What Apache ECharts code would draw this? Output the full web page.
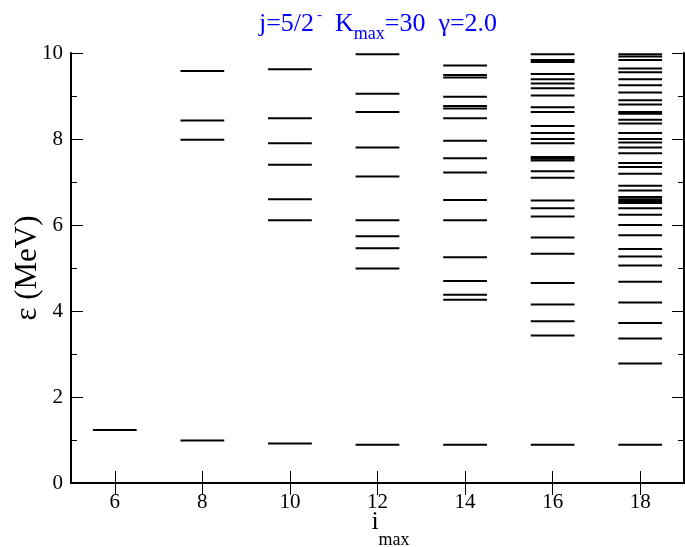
<!DOCTYPE html>
<html>
<head>
<meta charset="utf-8">
<script src="https://cdn.jsdelivr.net/npm/echarts@6/dist/echarts.min.js"></script>
<style>html,body{margin:0;padding:0;background:#fff;}#c{width:685px;height:547px;}</style>
</head>
<body>
<div id="c"></div>
<script>
const iMax = [6, 8, 10, 12, 14, 16, 18];
const xTicks = [6, 8, 10, 12, 14, 16, 18];
const levels6 = [1.23];
const levels8 = [9.58, 8.43, 7.98, 0.99];
const levels10 = [9.62, 8.48, 7.90, 7.40, 6.60, 6.11, 0.92];
const levels12 = [9.97, 9.05, 8.63, 7.80, 7.13, 6.11, 5.74, 5.46, 4.99, 0.89];
const levels14 = [9.71, 9.49, 9.43, 8.98, 8.77, 8.71, 8.48, 7.96, 7.55, 7.22, 6.58, 6.11, 5.25, 4.70, 4.38, 4.26, 0.89];
const levels16 = [9.97, 9.84, 9.79, 9.51, 9.39, 9.29, 9.18, 9.01, 8.74, 8.63, 8.30, 8.14, 8.00, 7.90, 7.58, 7.54, 7.50, 7.25, 7.10, 6.57, 6.39, 6.20, 5.71, 5.33, 4.65, 4.15, 3.76, 3.43, 0.89];
const levels18 = [9.97, 9.92, 9.84, 9.64, 9.55, 9.39, 9.25, 9.08, 8.90, 8.80, 8.63, 8.59, 8.45, 8.36, 8.14, 8.00, 7.92, 7.80, 7.67, 7.44, 7.35, 7.19, 6.91, 6.80, 6.65, 6.60, 6.56, 6.51, 6.39, 6.24, 6.00, 5.76, 5.44, 5.27, 5.06, 4.68, 4.20, 3.72, 3.36, 2.78, 0.89];
const columns = [levels6, levels8, levels10, levels12, levels14, levels16, levels18];

const FONT = "'Liberation Serif', 'Times New Roman', serif";
const HALF = 0.5;

function renderLevel(params, api) {
  const x = api.value(0), y = api.value(1);
  const p1 = api.coord([x - HALF, y]);
  const p2 = api.coord([x + HALF, y]);
  return {
    type: 'line',
    shape: { x1: p1[0], y1: p1[1], x2: p2[0], y2: p2[1] },
    style: { stroke: '#000', lineWidth: 2 }
  };
}

const series = columns.map((lv, k) => ({
  type: 'custom',
  renderItem: renderLevel,
  data: lv.map(v => [iMax[k], v]),
  encode: { x: 0, y: 1 },
  clip: false,
  silent: true
}));

const axisLine = { lineStyle: { color: '#000', width: 2 } };
const tickStyle = { color: '#000', width: 1 };

const option = {
  animation: false,
  backgroundColor: '#fff',
  title: {
    text: '{n|j=5/2}{sup|-}{n|  K}{sub|max}{n|=30  γ=2.0}',
    left: 373, top: 1, textAlign: 'center',
    textStyle: {
      fontWeight: 'normal',
      rich: {
        n: { fontFamily: FONT, fontSize: 26, fontWeight: 'normal', color: '#0000ff', lineHeight: 36 },
        sup: { fontFamily: FONT, fontSize: 15, fontWeight: 'normal', color: '#0000ff', lineHeight: 36, padding: [0, 0, 18, 3] },
        sub: { fontFamily: FONT, fontSize: 18, fontWeight: 'normal', color: '#0000ff', lineHeight: 36, padding: [20, 0, 0, 0] }
      }
    }
  },
  grid: { left: 71, right: 1, top: 53, bottom: 64, outerBoundsMode: 'none', containLabel: false },
  xAxis: [
    {
      type: 'value', min: 5, max: 19, position: 'bottom',
      axisLine: axisLine,
      axisTick: { inside: true, length: 12, customValues: xTicks, lineStyle: tickStyle },
      axisLabel: { customValues: xTicks, fontFamily: FONT, fontSize: 21, color: '#000', margin: 9 },
      splitLine: { show: false },
      name: '{i|i}{s|max}', nameLocation: 'middle', nameGap: 24, nameMoveOverlap: false,
      nameTextStyle: {
        verticalAlign: 'top',
        rich: {
          i: { fontFamily: FONT, fontSize: 26, color: '#000', lineHeight: 30, padding: [0, 0, 0, 26] },
          s: { fontFamily: FONT, fontSize: 18, color: '#000', lineHeight: 30, padding: [36, 0, 0, 0] }
        }
      }
    },
    {
      type: 'value', min: 5, max: 19, position: 'top',
      axisLine: axisLine,
      axisTick: { inside: true, length: 12, customValues: xTicks, lineStyle: tickStyle },
      axisLabel: { show: false },
      splitLine: { show: false }
    }
  ],
  yAxis: [
    {
      type: 'value', min: 0, max: 10, interval: 2, position: 'left',
      axisLine: axisLine,
      axisTick: { inside: true, length: 12, lineStyle: tickStyle },
      minorTick: { show: true, splitNumber: 2, length: 6, lineStyle: tickStyle },
      axisLabel: { fontFamily: FONT, fontSize: 21, color: '#000', margin: 8 },
      splitLine: { show: false },
      name: 'ε (MeV)', nameLocation: 'middle', nameGap: 28, nameRotate: 90, nameMoveOverlap: false,
      nameTextStyle: { fontFamily: FONT, fontSize: 31, color: '#000' }
    },
    {
      type: 'value', min: 0, max: 10, interval: 2, position: 'right',
      axisLine: axisLine,
      axisTick: { inside: true, length: 12, lineStyle: tickStyle },
      minorTick: { show: true, splitNumber: 2, length: 6, lineStyle: tickStyle },
      axisLabel: { show: false },
      splitLine: { show: false }
    }
  ],
  series: series
};

const chart = echarts.init(document.getElementById('c'), null, { renderer: 'canvas' });
chart.setOption(option);
</script>
</body>
</html>
